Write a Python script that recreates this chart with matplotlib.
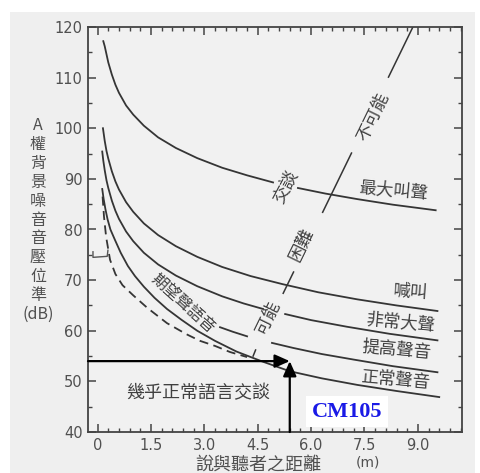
import numpy as np
import matplotlib.pyplot as plt
from matplotlib.ticker import MultipleLocator
from matplotlib.patches import Rectangle

plt.rcParams['font.family'] = ['Noto Sans CJK TC', 'DejaVu Sans']

# 曲線讀值 (距離 m, A權音壓位準 dB)
d_max = [0.16, 0.2, 0.25, 0.3, 0.4, 0.5, 0.6, 0.8, 1.0, 1.3, 1.7, 2.2, 2.8, 3.5, 4.2, 4.93]
db_max = [117.2, 116.2, 114.6, 113.0, 110.6, 108.6, 107.0, 104.5, 102.7, 100.5, 98.2, 96.1, 94.1, 92.2, 90.7, 89.3]
d_max2 = [5.63, 6.4, 7.3, 8.3, 9.5]
db_max2 = [88.2, 87.1, 86.0, 84.9, 83.8]

d_shout = [0.15, 0.2, 0.25, 0.3, 0.4, 0.5, 0.6, 0.8, 1.0, 1.3, 1.7, 2.2, 2.8, 3.5, 4.3, 5.2, 6.2, 7.3, 8.4, 9.55]
db_shout = [100.0, 97.5, 95.5, 94.0, 91.5, 89.5, 87.9, 85.4, 83.5, 81.2, 78.9, 76.7, 74.6, 72.6, 70.8, 69.2, 67.6, 66.2, 65.0, 63.9]

d_vloud = [0.13, 0.16, 0.2, 0.25, 0.3, 0.4, 0.5, 0.6, 0.8, 1.0, 1.3, 1.7, 2.2, 2.8, 3.5, 4.1, 4.65]
db_vloud = [95.4, 93.6, 91.7, 89.7, 88.2, 85.7, 83.7, 82.1, 79.6, 77.7, 75.4, 73.1, 70.9, 68.8, 66.8, 65.4, 64.3]
d_vloud2 = [5.27, 6.0, 7.0, 8.2, 9.55]
db_vloud2 = [63.3, 62.1, 60.8, 59.4, 58.1]

d_raised = [3.44, 3.8, 4.2]
db_raised = [60.7, 59.8, 58.9]
d_raised2 = [4.9, 5.5, 6.3, 7.2, 8.3, 9.55]
db_raised2 = [57.6, 56.6, 55.4, 54.3, 53.0, 51.8]

d_normal = [0.13, 0.17, 0.22, 0.28, 0.36, 0.49, 0.65, 0.85, 1.05, 1.3, 1.6, 1.95, 2.35, 2.8,
            3.3, 3.9, 4.6, 5.4, 6.3, 7.3, 8.4, 9.6]
db_normal = [88.0, 86.0, 84.0, 82.0, 80.0, 77.9, 75.4, 72.8, 70.8, 68.7, 66.5, 64.3, 62.2, 60.0,
             58.0, 55.9, 54.0, 52.0, 50.6, 49.3, 48.1, 46.9]

d_dash = [0.14, 0.18, 0.24, 0.35, 0.5, 0.7, 1.0, 1.4, 1.95, 2.5, 2.88, 3.3, 3.72, 4.2]
db_dash = [86.5, 82.5, 78.5, 74.0, 71.2, 69.0, 67.0, 64.5, 61.5, 59.3, 58.0, 57.0, 55.8, 54.8]

# 左側小括號記號
d_mark = [-0.13, -0.13, 0.27, 0.29]
db_mark = [75.6, 74.5, 74.7, 75.9]

# 交談可能/困難/不可能 分界線
div_d = [4.37, 8.86]
div_db = [55.2, 120.0]
div_pieces = [(110.1, 120.0), (83.4, 95.1), (67.4, 71.6), (55.0, 56.2)]

# 箭頭位置
arrow_d = 5.4
arrow_db = 54.0

x_ticks = [0, 1.5, 3.0, 4.5, 6.0, 7.5, 9.0]
x_ticklabels = ['0', '1.5', '3.0', '4.5', '6.0', '7.5', '9.0']

fig = plt.figure(figsize=(4.8, 4.73), dpi=100)
fig.patch.set_facecolor('white')
fig.add_artist(Rectangle((10 / 480, 0), 465 / 480, 461 / 473, transform=fig.transFigure,
                         facecolor='#efefef', edgecolor='none', zorder=0))
ax = fig.add_axes([88 / 480, 41 / 473, 374 / 480, 405 / 473])
ax.set_facecolor('#f1f1f1')

lc = '#353535'
lw = 1.3
ax.plot(d_max, db_max, color=lc, lw=lw)
ax.plot(d_max2, db_max2, color=lc, lw=lw)
ax.plot(d_shout, db_shout, color=lc, lw=lw)
ax.plot(d_vloud, db_vloud, color=lc, lw=lw)
ax.plot(d_vloud2, db_vloud2, color=lc, lw=lw)
ax.plot(d_raised, db_raised, color=lc, lw=lw)
ax.plot(d_raised2, db_raised2, color=lc, lw=lw)
ax.plot(d_normal, db_normal, color=lc, lw=lw)
ax.plot(d_dash, db_dash, color=lc, lw=lw, ls=(0, (5, 3)))
ax.plot(d_mark, db_mark, color='#555555', lw=1.0, clip_on=False)

for lo, hi in div_pieces:
    ys = [lo, hi]
    xs = np.interp(ys, div_db, div_d)
    ax.plot(xs, ys, color=lc, lw=1.1)

# 箭頭
astyle = '-|>,head_length=0.9,head_width=0.4'
ax.annotate('', xy=(arrow_d, arrow_db), xytext=(-0.27, arrow_db),
            arrowprops=dict(arrowstyle=astyle, color='black', lw=1.6, shrinkA=0, shrinkB=0))
ax.annotate('', xy=(arrow_d, arrow_db), xytext=(arrow_d, 40),
            arrowprops=dict(arrowstyle=astyle, color='black', lw=1.6, shrinkA=0, shrinkB=0))

tc = '#404040'
ax.text(8.3, 87.8, '最大叫聲', fontsize=12.5, color=tc, ha='center', va='center', rotation=-5)
ax.text(8.78, 67.6, '喊叫', fontsize=12.5, color=tc, ha='center', va='center', rotation=-4)
ax.text(8.5, 61.7, '非常大聲', fontsize=12.5, color=tc, ha='center', va='center', rotation=-5)
ax.text(8.4, 56.2, '提高聲音', fontsize=12.5, color=tc, ha='center', va='center', rotation=-5)
ax.text(8.36, 50.2, '正常聲音', fontsize=12.5, color=tc, ha='center', va='center', rotation=-5)
ax.text(2.83, 47.7, '幾乎正常語言交談', fontsize=13, color=tc, ha='center', va='center')
ax.text(5.3, 88.4, '交談', fontsize=12.5, color=tc, ha='center', va='center', rotation=62)
ax.text(7.74, 102.2, '不可能', fontsize=12.5, color=tc, ha='center', va='center', rotation=64)
ax.text(5.75, 76.9, '困難', fontsize=12.5, color=tc, ha='center', va='center', rotation=64)
ax.text(4.79, 62.5, '可能', fontsize=12.5, color=tc, ha='center', va='center', rotation=64)
ax.text(2.4, 65.3, '期望聲語音', fontsize=11.5, color=tc, ha='center', va='center', rotation=-42)

ax.text(7.0, 44.0, 'CM105', fontsize=16, color='#1a1ae6', fontweight='bold',
        family='Liberation Serif', ha='center', va='center',
        bbox=dict(facecolor='white', edgecolor='none', pad=4))

ax.set_xlim(-0.27, 10.24)
ax.set_ylim(40, 120)
ax.set_xticks(x_ticks)
ax.set_xticklabels(x_ticklabels)
ax.xaxis.set_minor_locator(MultipleLocator(0.3))
ax.yaxis.set_major_locator(MultipleLocator(10))
ax.yaxis.set_minor_locator(MultipleLocator(5))
ax.tick_params(which='both', direction='in', top=True, right=True, color='#444444')
ax.tick_params(which='major', length=6, width=1.1, labelsize=10.5, labelcolor='#505050', pad=4)
ax.tick_params(which='minor', length=3, width=1.0)
for lab in ax.get_xticklabels() + ax.get_yticklabels():
    lab.set_family('DejaVu Sans')
for s in ax.spines.values():
    s.set_color('#444444')
    s.set_linewidth(1.3)

fig.text(38 / 480, 1 - 220 / 473, 'A\n權\n背\n景\n噪\n音\n音\n壓\n位\n準\n(dB)', fontsize=11.5,
         color='#505050', ha='center', va='center', linespacing=1.15, multialignment='center')
fig.text(258 / 480, 1 - 465 / 473, '說與聽者之距離', fontsize=13, color='#505050',
         ha='center', va='center')
fig.text(368 / 480, 1 - 462 / 473, '(m)', fontsize=10, color='#505050', ha='center', va='center',
         family='DejaVu Sans')

fig.savefig('out.png', dpi=100)
